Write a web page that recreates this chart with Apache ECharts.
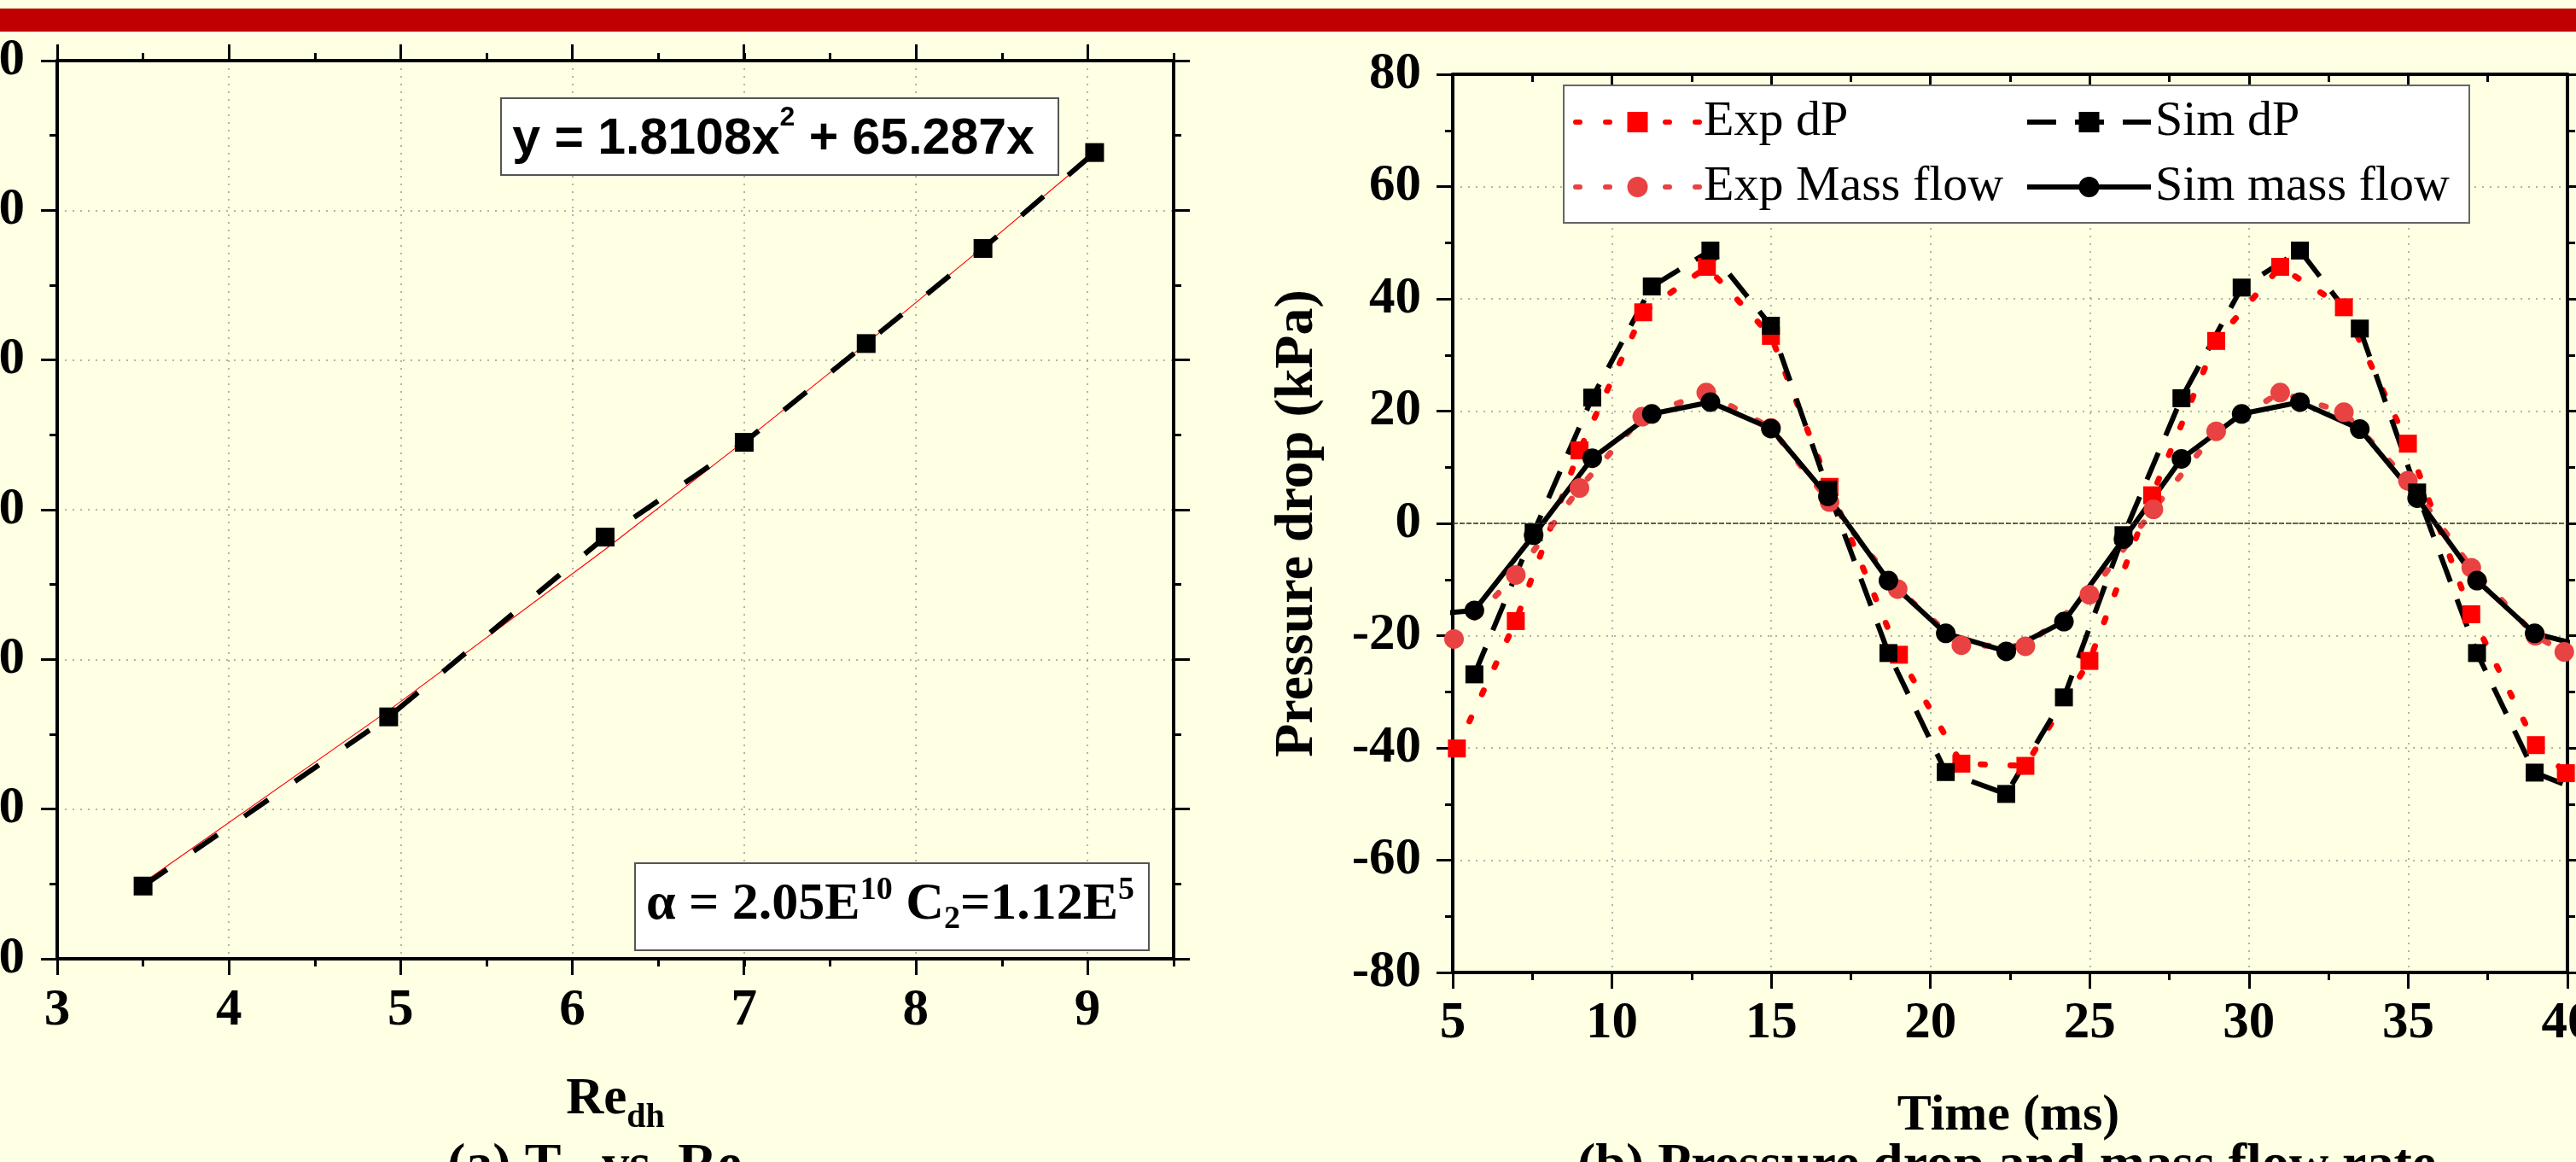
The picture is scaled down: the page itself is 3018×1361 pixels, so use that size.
<!DOCTYPE html>
<html>
<head>
<meta charset="utf-8">
<script src="https://cdn.jsdelivr.net/npm/echarts@6/dist/echarts.min.js"></script>
<style>
html, body { margin: 0; padding: 0; background: #FFFFE3; }
#main { width: 3018px; height: 1361px; }
</style>
</head>
<body>
<div id="main"></div>
<script>
// ---- panel (a): Re_dh vs value ----
var reDh  = [3.5, 4.93, 6.19, 7.0, 7.71, 8.39, 9.04];
var simRe = [248.6, 361.6, 481.7, 545, 611, 674.5, 738.6];
var fitRe = [250.7, 365.9, 473.5, 545.7, 611, 675.3, 738];

// ---- panel (b): pressure drop / mass flow vs time (ms) ----
var expDpT = [5.13, 6.98, 8.98, 10.98, 12.98, 14.99, 16.83, 19.01, 20.97, 22.98, 24.99, 26.96, 28.97, 30.98, 32.98, 34.99, 36.98, 39.01, 39.95];
var expDp  = [-40.1, -17.4, 13.0, 37.6, 45.7, 33.4, 6.5, -23.4, -42.8, -43.2, -24.5, 5.0, 32.5, 45.7, 38.5, 14.2, -16.2, -39.5, -44.5];

var expMfT = [5.04, 6.98, 8.98, 10.95, 12.96, 14.99, 16.83, 18.97, 20.97, 22.98, 24.99, 27.0, 28.97, 30.98, 32.98, 34.99, 36.98, 38.99, 39.9];
var expMf  = [-20.6, -9.2, 6.3, 19.0, 23.3, 17.0, 3.8, -11.7, -21.7, -21.9, -12.7, 2.5, 16.4, 23.3, 19.8, 7.6, -7.9, -20.0, -22.9];

var simDpT = [5.68, 7.54, 9.38, 11.25, 13.09, 14.99, 16.78, 18.68, 20.48, 22.38, 24.19, 26.06, 27.88, 29.77, 31.6, 33.48, 35.28, 37.16, 38.97, 40.8];
var simDp  = [-26.9, -1.6, 22.4, 42.2, 48.6, 35.2, 6.0, -23.1, -44.3, -48.2, -31.0, -2.1, 22.3, 42.0, 48.6, 34.7, 5.5, -23.1, -44.4, -48.5];

var simMfT = [3.8, 5.68, 7.54, 9.38, 11.25, 13.09, 14.99, 16.78, 18.68, 20.48, 22.38, 24.19, 26.06, 27.88, 29.77, 31.6, 33.48, 35.28, 37.16, 38.97, 40.8];
var simMf  = [-16.5, -15.5, -2.1, 11.6, 19.5, 21.6, 16.9, 4.8, -10.2, -19.6, -22.8, -17.5, -2.8, 11.5, 19.5, 21.6, 16.8, 4.5, -10.2, -19.6, -22.3];

var serif = 'Liberation Serif';
var chart = echarts.init(document.getElementById('main'));

function pairs(xs, ys) {
    return xs.map(function (x, i) { return [x, ys[i]]; });
}

var tickLabel = { color: '#000', fontFamily: serif, fontWeight: 'bold', fontSize: 61 };
var dotGrid = { show: true, lineStyle: { color: '#9a9a9a', width: 1.5, type: [2, 7] } };

// one framed axis side
function mk(grid, pos, min, max, step, o) {
    o = o || {};
    return {
        type: 'value', gridIndex: grid, position: pos,
        min: min, max: max, interval: step,
        axisLine: { show: !o.noLine, onZero: false, lineStyle: { color: '#000', width: 4 } },
        axisTick: { show: true, inside: !!o.inside, length: o.len || 19, lineStyle: { color: '#000', width: 3 } },
        minorTick: { show: !!o.minor, splitNumber: 2, length: 9, lineStyle: { color: '#000', width: 3 } },
        axisLabel: o.label ? Object.assign({ margin: o.margin }, tickLabel) : { show: false },
        splitLine: o.split ? dotGrid : { show: false }
    };
}

function legendBlock(names, left) {
    return {
        data: names, orient: 'vertical', left: left, top: 113,
        itemWidth: 145, itemHeight: 30, itemGap: 16, padding: 0, selectedMode: false, z: 12,
        lineStyle: { width: 6 },
        textStyle: { color: '#000', fontFamily: serif, fontSize: 58, lineHeight: 60 }
    };
}

var option = {
    backgroundColor: '#FFFFE3',
    animation: false,
    grid: [
        { left: 67, top: 71, width: 1308, height: 1052, containLabel: false, outerBoundsMode: 'none' },
        { left: 67, top: 71, width: 1207, height: 1052, containLabel: false, outerBoundsMode: 'none' },
        { left: 1702, top: 87, width: 1306, height: 1052, containLabel: false, outerBoundsMode: 'none' }
    ],
    xAxis: [
        mk(0, 'bottom', 3, 9.5, 0.5, { len: 9 }),
        mk(0, 'top', 3, 9.5, 0.5, { len: 9 }),
        mk(1, 'bottom', 3, 9, 1, { noLine: true, label: true, margin: 31, split: true }),
        mk(1, 'top', 3, 9, 1, { noLine: true }),
        mk(2, 'bottom', 5, 40, 5, { minor: true, label: true, margin: 30, split: true }),
        mk(2, 'top', 5, 40, 5, { minor: true, inside: true })
    ],
    yAxis: [
        mk(0, 'left', 200, 800, 100, { minor: true, label: true, margin: 38, split: true }),
        mk(0, 'right', 200, 800, 100, { minor: true }),
        { type: 'value', gridIndex: 1, show: false, min: 200, max: 800 },
        mk(2, 'left', -80, 80, 20, { minor: true, label: true, margin: 37, split: true }),
        mk(2, 'right', -80, 80, 20, { minor: true })
    ],
    legend: [
        legendBlock(['Exp dP', 'Exp Mass flow'], 1843),
        legendBlock(['Sim dP', 'Sim mass flow'], 2372)
    ],
    graphic: [
        { type: 'rect', shape: { x: 0, y: 10, width: 3018, height: 27 }, style: { fill: '#C00000' }, z: 20 },
        // legend frame
        { type: 'rect', shape: { x: 1832, y: 100, width: 1061, height: 161 }, style: { fill: '#fff', stroke: '#666', lineWidth: 2 }, z: 5 },
        // fit equation
        { type: 'rect', shape: { x: 587, y: 115, width: 653, height: 90 }, style: { fill: '#fff', stroke: '#555', lineWidth: 2 }, z: 10 },
        {
            type: 'text', x: 906, y: 164, z: 11,
            style: {
                text: '{m|y = 1.8108x}{s|2}{m| + 65.287x}',
                textAlign: 'center', textVerticalAlign: 'middle',
                rich: {
                    m: { fontFamily: 'Liberation Sans', fontWeight: 'bold', fontSize: 59, lineHeight: 84, fill: '#000' },
                    s: { fontFamily: 'Liberation Sans', fontWeight: 'bold', fontSize: 32, lineHeight: 34, verticalAlign: 'top', fill: '#000' }
                }
            }
        },
        // coefficients
        { type: 'rect', shape: { x: 744, y: 1011, width: 602, height: 102 }, style: { fill: '#fff', stroke: '#555', lineWidth: 2 }, z: 10 },
        {
            type: 'text', x: 1043, y: 1060, z: 11,
            style: {
                text: '{m|\u03b1 = 2.05E}{p|10}{m| C}{b|2}{m|=1.12E}{p|5}',
                textAlign: 'center', textVerticalAlign: 'middle',
                rich: {
                    m: { fontFamily: serif, fontWeight: 'bold', fontSize: 62, lineHeight: 72, fill: '#000' },
                    p: { fontFamily: serif, fontWeight: 'bold', fontSize: 38, lineHeight: 38, verticalAlign: 'top', fill: '#000' },
                    b: { fontFamily: serif, fontWeight: 'bold', fontSize: 38, lineHeight: 22, verticalAlign: 'bottom', fill: '#000' }
                }
            }
        },
        // axis names / captions
        {
            type: 'text', x: 721, y: 1288, z: 11,
            style: {
                text: '{m|Re}{s|dh}', textAlign: 'center', textVerticalAlign: 'middle',
                rich: {
                    m: { fontFamily: serif, fontWeight: 'bold', fontSize: 61, lineHeight: 84, fill: '#000' },
                    s: { fontFamily: serif, fontWeight: 'bold', fontSize: 40, lineHeight: 40, verticalAlign: 'bottom', fill: '#000' }
                }
            }
        },
        {
            type: 'text', x: 2353, y: 1307, z: 11,
            style: { text: 'Time (ms)', textAlign: 'center', textVerticalAlign: 'middle', fill: '#000',
                     font: 'bold 60px "Liberation Serif"' }
        },
        {
            type: 'text', x: 1520, y: 613, rotation: Math.PI / 2, z: 11,
            style: { text: 'Pressure drop (kPa)', textAlign: 'center', textVerticalAlign: 'middle', fill: '#000',
                     font: 'bold 64px "Liberation Serif"' }
        },
        {
            type: 'text', x: 524, y: 1366, z: 11,
            style: { text: '(a) T   vs. Re', textAlign: 'left', textVerticalAlign: 'middle', fill: '#000',
                     font: 'bold 64px "Liberation Serif"' }
        },
        {
            type: 'text', x: 1848, y: 1366, z: 11,
            style: { text: '(b) Pressure drop and mass flow rate', textAlign: 'left', textVerticalAlign: 'middle', fill: '#000',
                     font: 'bold 64px "Liberation Serif"' }
        }
    ],
    series: [
        {
            name: 'Fit', type: 'line', xAxisIndex: 0, yAxisIndex: 0,
            data: pairs(reDh, fitRe), symbol: 'none',
            lineStyle: { color: '#FF0000', width: 1.2 }
        },
        {
            name: 'Sim', type: 'line', xAxisIndex: 0, yAxisIndex: 0,
            data: pairs(reDh, simRe), symbol: 'rect', symbolSize: 22,
            itemStyle: { color: '#000' },
            lineStyle: { color: '#000', width: 6, type: [34, 38] }
        },
        {
            name: 'Exp dP', type: 'line', xAxisIndex: 4, yAxisIndex: 3,
            data: pairs(expDpT, expDp), symbol: 'rect', symbolSize: 21,
            itemStyle: { color: '#FF0000' },
            lineStyle: { color: '#FF0000', width: 7, type: [5, 30], cap: 'round' }
        },
        {
            name: 'Exp Mass flow', type: 'line', xAxisIndex: 4, yAxisIndex: 3,
            data: pairs(expMfT, expMf), symbol: 'circle', symbolSize: 23,
            itemStyle: { color: '#E94242' },
            lineStyle: { color: '#E94242', width: 7, type: [5, 30], cap: 'round' }
        },
        {
            name: 'Sim dP', type: 'line', xAxisIndex: 4, yAxisIndex: 3,
            data: pairs(simDpT, simDp), symbol: 'rect', symbolSize: 21,
            itemStyle: { color: '#000' },
            lineStyle: { color: '#000', width: 6, type: [34, 22] }
        },
        {
            name: 'Sim mass flow', type: 'line', xAxisIndex: 4, yAxisIndex: 3,
            data: pairs(simMfT, simMf), symbol: 'circle', symbolSize: 23,
            itemStyle: { color: '#000' },
            lineStyle: { color: '#000', width: 6 },
            markLine: {
                silent: true, symbol: 'none', label: { show: false },
                lineStyle: { color: '#333', width: 1.5, type: [6, 2] },
                data: [{ yAxis: 0 }]
            }
        }
    ]
};

chart.setOption(option);
</script>
</body>
</html>
